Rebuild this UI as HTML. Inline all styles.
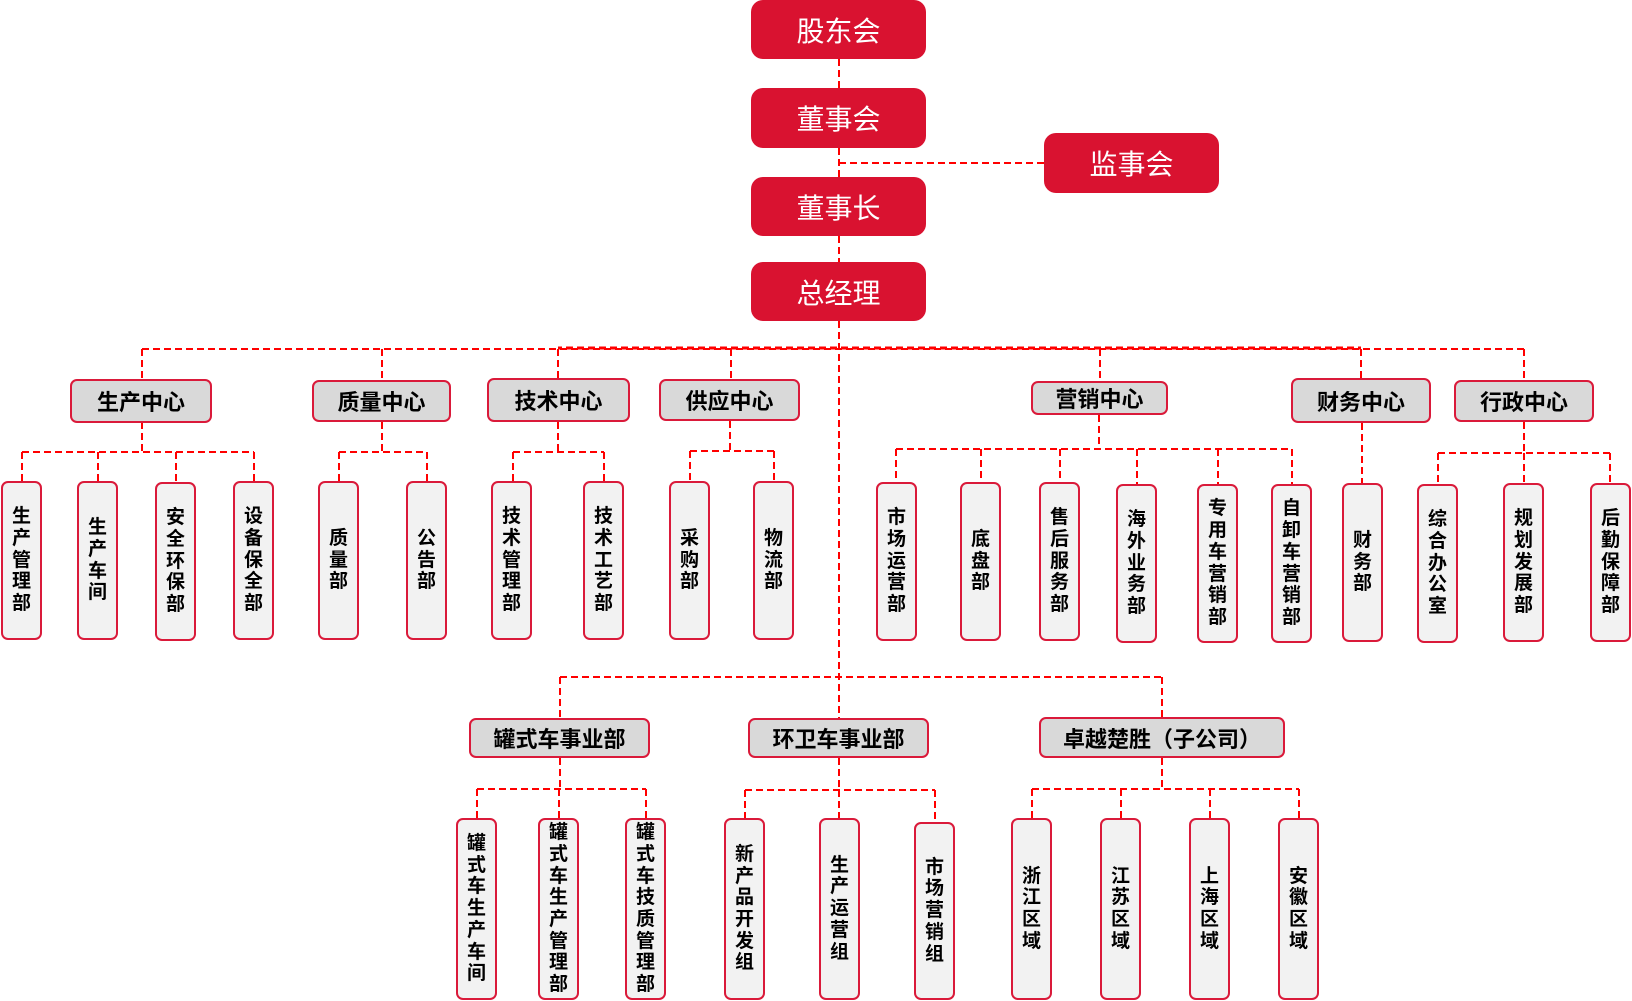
<!DOCTYPE html>
<html>
<head>
<meta charset="utf-8">
<style>
html,body{margin:0;padding:0;background:#fff;}
body{width:1632px;height:1001px;position:relative;overflow:hidden;font-family:"Liberation Sans","Noto Sans CJK SC",sans-serif;}
svg{position:absolute;left:0;top:0;}
.r{position:absolute;background:#D91230;border-radius:12px;color:#fff;font-size:28px;display:flex;align-items:center;justify-content:center;font-family:"Liberation Sans","Noto Sans CJK SC",sans-serif;font-weight:400;}
.c{position:absolute;background:#D9D9D9;border:2px solid #DA1A3A;border-radius:7px;box-sizing:border-box;display:flex;align-items:center;justify-content:center;font-size:22px;font-weight:700;color:#000;white-space:nowrap;}
.v{position:absolute;width:41px;background:#F2F2F2;border:2px solid #DA1A3A;border-radius:7px;box-sizing:border-box;display:flex;align-items:center;justify-content:center;font-size:19px;font-weight:700;color:#000;}
.v span{display:block;width:21px;line-height:21.7px;text-align:center;word-break:break-all;}
</style>
</head>
<body>
<svg width="1632" height="1001" viewBox="0 0 1632 1001">
<g fill="none" stroke="#FF0000" stroke-width="2" stroke-dasharray="7 4">
<!-- trunk -->
<path d="M839 59V88M839 148V177M839 236V262M839 321V718"/>
<path d="M839 163H1044"/>
<!-- main bus -->
<path d="M142 349H1524"/>
<path d="M558 348H1361" stroke-width="3" stroke-dashoffset="3"/>
<path d="M142 349V379M382 349V380M558 349V378M731 349V379M1100 349V381M1361 349V378M1524 349V380"/>
<!-- center drops -->
<path d="M142 422V452M382 422V452M558 422V452M730 421V451M1099 415V449M1362 423V483M1524 422V453"/>
<!-- sub buses -->
<path d="M22 452H254M22 452V481M98 452V481M176 452V482M254 452V481"/>
<path d="M339 452H427M339 452V481M427 452V481"/>
<path d="M513 452H604M513 452V481M604 452V481"/>
<path d="M690 451H774M690 451V481M774 451V481"/>
<path d="M896 449H1292M896 449V482M981 449V482M1060 449V482M1137 449V484M1218 449V484M1292 449V484"/>
<path d="M1438 453H1610M1438 453V484M1524 453V483M1610 453V483"/>
<!-- second bus -->
<path d="M560 677H1162M560 677V718M1162 677V717"/>
<path d="M560 758V789M477 789H646M477 789V818M559 789V818M646 789V818"/>
<path d="M839 758V790M745 790H935M745 790V818M839 790V818M935 790V822"/>
<path d="M1162 758V789M1032 789H1299M1032 789V818M1121 789V818M1210 789V818M1299 789V818"/>
</g>
</svg>

<div class="r" style="left:751px;top:0;width:175px;height:59px;">股东会</div>
<div class="r" style="left:751px;top:88px;width:175px;height:60px;">董事会</div>
<div class="r" style="left:751px;top:177px;width:175px;height:59px;">董事长</div>
<div class="r" style="left:751px;top:262px;width:175px;height:59px;">总经理</div>
<div class="r" style="left:1044px;top:133px;width:175px;height:60px;">监事会</div>

<div class="c" style="left:70px;top:379px;width:142px;height:44px;">生产中心</div>
<div class="c" style="left:312px;top:380px;width:139px;height:42px;">质量中心</div>
<div class="c" style="left:487px;top:378px;width:143px;height:44px;">技术中心</div>
<div class="c" style="left:659px;top:379px;width:141px;height:42px;">供应中心</div>
<div class="c" style="left:1031px;top:381px;width:137px;height:34px;">营销中心</div>
<div class="c" style="left:1291px;top:378px;width:140px;height:45px;">财务中心</div>
<div class="c" style="left:1454px;top:380px;width:140px;height:42px;">行政中心</div>

<div class="v" style="left:1px;top:481px;height:159px;"><span>生产管理部</span></div>
<div class="v" style="left:77px;top:481px;height:159px;"><span>生产车间</span></div>
<div class="v" style="left:155px;top:482px;height:159px;"><span>安全环保部</span></div>
<div class="v" style="left:233px;top:481px;height:159px;"><span>设备保全部</span></div>
<div class="v" style="left:318px;top:481px;height:159px;"><span>质量部</span></div>
<div class="v" style="left:406px;top:481px;height:159px;"><span>公告部</span></div>
<div class="v" style="left:491px;top:481px;height:159px;"><span>技术管理部</span></div>
<div class="v" style="left:583px;top:481px;height:159px;"><span>技术工艺部</span></div>
<div class="v" style="left:669px;top:481px;height:159px;"><span>采购部</span></div>
<div class="v" style="left:753px;top:481px;height:159px;"><span>物流部</span></div>
<div class="v" style="left:876px;top:482px;height:159px;"><span>市场运营部</span></div>
<div class="v" style="left:960px;top:482px;height:159px;"><span>底盘部</span></div>
<div class="v" style="left:1039px;top:482px;height:159px;"><span>售后服务部</span></div>
<div class="v" style="left:1116px;top:484px;height:159px;"><span>海外业务部</span></div>
<div class="v" style="left:1197px;top:484px;height:159px;"><span>专用车营销部</span></div>
<div class="v" style="left:1271px;top:484px;height:159px;"><span>自卸车营销部</span></div>
<div class="v" style="left:1342px;top:483px;height:159px;"><span>财务部</span></div>
<div class="v" style="left:1417px;top:484px;height:159px;"><span>综合办公室</span></div>
<div class="v" style="left:1503px;top:483px;height:159px;"><span>规划发展部</span></div>
<div class="v" style="left:1590px;top:483px;height:159px;"><span>后勤保障部</span></div>

<div class="c" style="left:469px;top:718px;width:181px;height:40px;">罐式车事业部</div>
<div class="c" style="left:748px;top:718px;width:181px;height:40px;">环卫车事业部</div>
<div class="c" style="left:1039px;top:717px;width:246px;height:41px;">卓越楚胜（子公司）</div>

<div class="v" style="left:456px;top:818px;height:182px;"><span>罐式车生产车间</span></div>
<div class="v" style="left:538px;top:818px;height:182px;"><span>罐式车生产管理部</span></div>
<div class="v" style="left:625px;top:818px;height:182px;"><span>罐式车技质管理部</span></div>
<div class="v" style="left:724px;top:818px;height:182px;"><span>新产品开发组</span></div>
<div class="v" style="left:819px;top:818px;height:182px;"><span>生产运营组</span></div>
<div class="v" style="left:914px;top:822px;height:178px;"><span>市场营销组</span></div>
<div class="v" style="left:1011px;top:818px;height:182px;"><span>浙江区域</span></div>
<div class="v" style="left:1100px;top:818px;height:182px;"><span>江苏区域</span></div>
<div class="v" style="left:1189px;top:818px;height:182px;"><span>上海区域</span></div>
<div class="v" style="left:1278px;top:818px;height:182px;"><span>安徽区域</span></div>
</body>
</html>
